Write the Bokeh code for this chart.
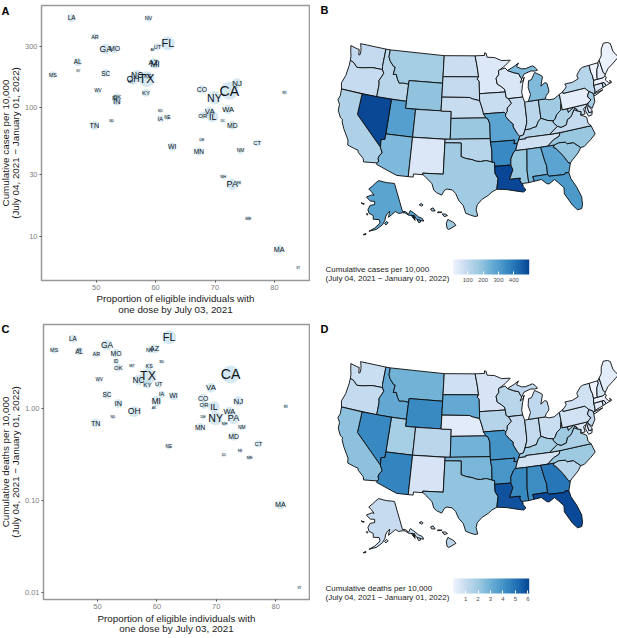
import math
import numpy as np
from bokeh.plotting import figure
from bokeh.models import (ColumnDataSource, Range1d, FixedTicker, Label, ColorBar,
                          LinearColorMapper, AllLabels)
from bokeh.core.properties import value, field
from bokeh.embed import file_html
from bokeh.resources import INLINE

# ------------------------------------------------------------------ data
states = ["AK","AL","AR","AZ","CA","CO","CT","DC","DE","FL","GA","HI","IA","ID","IL","IN","KS",
          "KY","LA","MA","MD","ME","MI","MN","MO","MS","MT","NC","ND","NE","NH","NJ","NM","NV",
          "NY","OH","OK","OR","PA","RI","SC","SD","TN","TX","UT","VA","VT","WA","WI","WV","WY"]
vacc = [59.5,46.9,49.8,59.6,72.4,67.8,77.1,71.3,67.8,62.06,51.6,74.0,60.8,53.1,69.6,53.5,58.7,
        58.4,45.85,80.8,72.9,75.6,59.9,67.3,53.1,42.7,55.8,56.9,52.6,62.0,71.4,73.7,74.3,58.8,
        69.9,56.2,53.5,67.95,72.9,81.7,51.6,60.8,49.7,58.5,60.3,69.1,84.0,72.2,62.8,50.3,47.0]
cases = [283,226,356,222,135,138,53,79,56,315,285,26,82,117,85,112,176,
         130,496,7.9,73,13.8,219,45.6,285,180,159,178,78,84,29,154.5,46,493,
         119,166,121,87,25.3,131,185,94,72.5,166,297,93,5.7,96.5,49.5,134.7,191]
deaths = [1.02,4.23,3.93,4.49,2.36,1.31,.417,.313,.81,6.0,4.92,.352,1.44,3.27,1.05,1.14,2.91,
          1.84,5.77,.0905,.50,.296,1.21,.632,4.03,4.34,2.93,2.05,.805,.39,.687,1.21,.632,4.38,
          .785,.935,2.79,1.10,.785,1.07,1.42,3.24,.70,2.25,1.84,1.69,.0115,.935,1.38,2.07,4.3]
pop = [.73,4.9,3.0,7.3,39.5,5.8,3.6,.7,1.0,21.5,10.7,1.4,3.2,1.8,12.7,6.7,2.9,
       4.5,4.6,6.9,6.0,1.3,10.0,5.6,6.1,3.0,1.1,10.4,.76,1.9,1.4,8.9,2.1,3.1,
       19.5,11.7,4.0,4.2,12.8,1.1,5.1,.88,6.9,29.0,3.2,8.6,.62,7.6,5.9,1.8,.58]
map_cases = dict(zip(states, cases)); map_cases["HI"] = 170
map_deaths = dict(zip(states, deaths)); map_deaths["HI"] = 1.3

x_ticks = [50, 60, 70, 80]
case_ticks = [10, 30, 100, 300]
death_ticks = [0.01, 0.10, 1.00]
blues = ["#EFF3FF","#C6DBEF","#9ECAE1","#6BAED6","#4292C6","#2171B5","#084594"]

# State outlines as (lon, lat)
GEO = {
"WA":[(-124.73,48.38),(-123.2,48.15),(-122.75,48.15),(-122.55,47.35),(-122.3,47.4),(-122.3,48.0),(-122.5,48.5),(-122.76,49),(-117.03,49),(-117.04,46.42),(-116.92,45.99),(-118.98,46),(-119.6,45.92),(-121.2,45.65),(-122.3,45.55),(-122.8,45.85),(-123.3,46.15),(-124,46.27),(-124.1,46.9),(-124.4,47.5)],
"OR":[(-124,46.27),(-123.3,46.15),(-122.8,45.85),(-122.3,45.55),(-121.2,45.65),(-119.6,45.92),(-118.98,46),(-116.92,45.99),(-116.5,45.5),(-116.85,44.9),(-117.2,44.4),(-117.03,43.8),(-117.03,42),(-124.21,42),(-124.55,42.84),(-124.1,44),(-123.95,45.5)],
"ID":[(-117.03,49),(-116.05,49),(-116.05,48),(-115.7,47.45),(-114.7,46.7),(-114.35,46.65),(-114.5,45.55),(-113.9,45.65),(-113.45,44.95),(-113,44.45),(-112.3,44.55),(-111.05,44.48),(-111.05,42),(-117.03,42),(-117.03,43.8),(-117.2,44.4),(-116.85,44.9),(-116.5,45.5),(-116.92,45.99),(-117.04,46.42)],
"MT":[(-116.05,49),(-104.05,49),(-104.05,45),(-111.05,45),(-111.05,44.48),(-112.3,44.55),(-113,44.45),(-113.45,44.95),(-113.9,45.65),(-114.5,45.55),(-114.35,46.65),(-114.7,46.7),(-115.7,47.45),(-116.05,48)],
"WY":[(-111.05,45),(-104.05,45),(-104.05,41),(-111.05,41)],
"UT":[(-114.05,42),(-111.05,42),(-111.05,41),(-109.05,41),(-109.05,37),(-114.05,37)],
"NV":[(-120,42),(-114.05,42),(-114.05,36.2),(-114.75,36.1),(-114.63,35),(-120,39)],
"CA":[(-124.21,42),(-120,42),(-120,39),(-114.63,35),(-114.15,34.25),(-114.5,33.9),(-114.72,33.4),(-114.52,33),(-114.72,32.72),(-117.12,32.53),(-117.3,33),(-118.4,33.75),(-118.5,34.03),(-119.2,34.15),(-120.5,34.45),(-120.65,35.15),(-121.9,36.6),(-122.5,37.5),(-122.5,37.8),(-123,38),(-123.75,38.95),(-123.8,39.8),(-124.35,40.4),(-124.1,41)],
"AZ":[(-114.05,37),(-109.05,37),(-109.05,31.33),(-111.07,31.33),(-114.82,32.5),(-114.72,32.72),(-114.52,33),(-114.72,33.4),(-114.5,33.9),(-114.15,34.25),(-114.63,35),(-114.75,36.1),(-114.05,36.2)],
"CO":[(-109.05,41),(-102.05,41),(-102.05,37),(-109.05,37)],
"NM":[(-109.05,37),(-103,37),(-103.04,32),(-106.62,32),(-106.53,31.78),(-108.2,31.78),(-108.2,31.33),(-109.05,31.33)],
"ND":[(-104.05,49),(-97.23,49),(-96.85,47.5),(-96.56,45.94),(-104.05,45.94)],
"SD":[(-104.05,45.94),(-96.56,45.94),(-96.85,45.6),(-96.45,45.3),(-96.45,43.5),(-96.45,42.5),(-97.9,42.8),(-98.5,43),(-104.05,43)],
"NE":[(-104.05,43),(-98.5,43),(-97.9,42.8),(-96.45,42.5),(-96.1,41.7),(-95.85,41),(-95.3,40),(-102.05,40),(-102.05,41),(-104.05,41)],
"KS":[(-102.05,40),(-95.3,40),(-94.9,39.8),(-94.6,39.1),(-94.62,37),(-102.05,37)],
"OK":[(-103,37),(-94.62,37),(-94.62,36.5),(-94.43,35.4),(-94.48,33.64),(-95.5,33.9),(-96.5,33.8),(-97.2,33.85),(-98,34.1),(-99.2,34.3),(-100,34.56),(-100,36.5),(-103,36.5)],
"TX":[(-106.62,32),(-103.04,32),(-103,36.5),(-100,36.5),(-100,34.56),(-99.2,34.3),(-98,34.1),(-97.2,33.85),(-96.5,33.8),(-95.5,33.9),(-94.48,33.64),(-94.04,33.55),(-94.04,33),(-94.04,31.99),(-93.55,31.2),(-93.75,30.3),(-93.85,29.7),(-94.7,29.35),(-95.3,28.9),(-96.4,28.35),(-97.2,27.6),(-97.4,26.9),(-97.15,25.96),(-97.6,25.9),(-98.3,26.1),(-99.1,26.4),(-99.5,27.5),(-100.3,28.3),(-100.8,29.25),(-101.4,29.77),(-102.3,29.88),(-102.7,29.7),(-103.15,28.98),(-104,29.3),(-104.5,29.65),(-104.9,30.6),(-106,31.4),(-106.53,31.78)],
"MN":[(-97.23,49),(-95.15,49),(-95.15,49.38),(-94.8,49.3),(-94.6,48.72),(-93,48.6),(-91.5,48.07),(-89.6,48),(-90.8,47.3),(-92.05,46.75),(-92.29,46.66),(-92.29,46.07),(-92.9,45.6),(-92.75,44.75),(-91.9,44.3),(-91.25,43.85),(-91.22,43.5),(-96.45,43.5),(-96.45,45.3),(-96.85,45.6),(-96.56,45.94),(-96.85,47.5)],
"IA":[(-96.45,43.5),(-91.22,43.5),(-91.1,42.7),(-90.65,42.5),(-90.15,41.8),(-91.05,41.2),(-91.1,40.7),(-91.42,40.38),(-91.73,40.61),(-95.77,40.58),(-95.85,41),(-96.1,41.7),(-96.45,42.5)],
"MO":[(-95.77,40.58),(-91.73,40.61),(-91.42,40.38),(-91.5,40),(-90.75,39.25),(-90.15,38.8),(-90.2,38.4),(-89.5,37.3),(-89.15,36.98),(-89.4,36.5),(-89.7,36),(-90.37,36),(-90.15,36.5),(-94.62,36.5),(-94.62,37),(-94.6,39.1),(-94.9,39.8),(-95.3,40)],
"AR":[(-94.62,36.5),(-90.15,36.5),(-90.37,36),(-89.7,36),(-90.1,35.1),(-90.6,34.7),(-91.1,33.9),(-91.2,33),(-94.04,33),(-94.04,33.55),(-94.48,33.64),(-94.43,35.4)],
"LA":[(-94.04,33),(-91.2,33),(-90.9,32.3),(-91.6,31),(-89.73,31),(-89.85,30.65),(-89.6,30.2),(-89.4,30.05),(-89.4,29.75),(-89,29.2),(-89.4,28.95),(-90.2,29.1),(-91.3,29.35),(-92.3,29.55),(-93.85,29.7),(-93.75,30.3),(-93.55,31.2),(-94.04,31.99)],
"WI":[(-92.29,46.66),(-92.05,46.75),(-90.85,46.95),(-90.4,46.55),(-89.1,46.13),(-88.1,45.9),(-87.8,45.35),(-87.6,45.1),(-88,44.55),(-87.35,44.85),(-87.05,45.3),(-87.55,44.3),(-87.9,43.2),(-87.8,42.49),(-90.65,42.5),(-91.1,42.7),(-91.22,43.5),(-91.25,43.85),(-91.9,44.3),(-92.75,44.75),(-92.9,45.6),(-92.29,46.07)],
"IL":[(-90.65,42.5),(-87.8,42.49),(-87.53,41.7),(-87.53,39.35),(-87.6,38.7),(-88.05,37.8),(-88.45,37.1),(-89.15,36.98),(-89.5,37.3),(-90.2,38.4),(-90.15,38.8),(-90.75,39.25),(-91.5,40),(-91.42,40.38),(-91.1,40.7),(-91.05,41.2),(-90.15,41.8)],
"IN":[(-87.53,41.7),(-87.2,41.75),(-86.8,41.76),(-84.8,41.76),(-84.82,39.1),(-85.4,38.7),(-85.9,38),(-86.5,37.95),(-87.1,37.8),(-88.05,37.8),(-87.6,38.7),(-87.53,39.35)],
"OH":[(-84.8,41.76),(-83.45,41.73),(-82.7,41.5),(-81.7,41.5),(-80.52,41.98),(-80.52,40.64),(-80.85,39.7),(-81.7,39.25),(-82.2,38.6),(-82.6,38.42),(-83.7,38.65),(-84.82,39.1)],
"KY":[(-89.15,36.98),(-88.45,37.1),(-88.05,37.8),(-87.1,37.8),(-86.5,37.95),(-85.9,38),(-85.4,38.7),(-84.82,39.1),(-83.7,38.65),(-82.6,38.42),(-82.6,38.15),(-81.97,37.54),(-83.68,36.6),(-88.07,36.68),(-88.07,36.5),(-89.4,36.5)],
"TN":[(-90.1,35.1),(-89.7,36),(-89.4,36.5),(-88.07,36.5),(-88.07,36.68),(-83.68,36.6),(-81.68,36.59),(-82,36.1),(-83.1,35.75),(-84.3,35),(-85.6,35),(-88.2,35),(-90.1,35)],
"MS":[(-90.1,35),(-88.2,35),(-88.1,34.9),(-88.47,31.9),(-88.4,30.2),(-89.6,30.2),(-89.85,30.65),(-89.73,31),(-91.6,31),(-90.9,32.3),(-91.2,33),(-91.1,33.9),(-90.6,34.7),(-90.1,35.1)],
"AL":[(-88.2,35),(-85.6,35),(-85.18,32.87),(-85,32.3),(-85.05,31),(-87.6,31),(-87.45,30.3),(-88,30.25),(-88.4,30.2),(-88.47,31.9),(-88.1,34.9)],
"GA":[(-85.6,35),(-84.3,35),(-83.1,35),(-83.35,34.7),(-82.9,34.45),(-81.9,33.3),(-81.15,32.1),(-80.85,32.03),(-81.4,30.7),(-82.05,30.75),(-82.2,30.55),(-84.86,30.7),(-85.05,31),(-85,32.3),(-85.18,32.87)],
"FL":[(-87.6,31),(-85.05,31),(-84.86,30.7),(-82.2,30.55),(-82.05,30.75),(-81.4,30.7),(-81.25,29.8),(-80.55,28.4),(-80.05,26.9),(-80.15,25.75),(-80.4,25.2),(-81.1,25.15),(-81.75,25.95),(-82.15,26.7),(-82.75,27.8),(-82.65,28.7),(-83.4,29.5),(-84,30.1),(-85,29.6),(-85.4,29.7),(-86.2,30.4),(-87.45,30.3)],
"SC":[(-83.35,34.7),(-83.1,35),(-82.3,35.2),(-81.05,35.1),(-80.8,34.82),(-79.67,34.8),(-78.55,33.86),(-79.2,33.2),(-80.45,32.35),(-80.85,32.03),(-81.15,32.1),(-81.9,33.3),(-82.9,34.45)],
"NC":[(-84.3,35),(-83.1,35.75),(-82,36.1),(-81.68,36.59),(-75.87,36.55),(-75.5,35.25),(-76.5,34.65),(-77.9,33.9),(-78.55,33.86),(-79.67,34.8),(-80.8,34.82),(-81.05,35.1),(-82.3,35.2),(-83.1,35)],
"VA":[(-83.68,36.6),(-81.97,37.54),(-81.3,37.3),(-80.3,37.5),(-79.95,38.2),(-79.3,38.42),(-78.87,38.77),(-78.35,39.4),(-77.83,39.13),(-77.05,38.85),(-77.3,38.4),(-76.3,37.9),(-76.3,37),(-75.87,36.55),(-81.68,36.59)],
"WV":[(-82.6,38.15),(-82.6,38.42),(-82.2,38.6),(-81.7,39.25),(-80.85,39.7),(-80.52,40.64),(-80.52,39.72),(-79.48,39.72),(-79.48,39.2),(-78.35,39.7),(-77.72,39.32),(-77.83,39.13),(-78.35,39.4),(-78.87,38.77),(-79.3,38.42),(-79.95,38.2),(-80.3,37.5),(-81.3,37.3),(-81.97,37.54)],
"MD":[(-79.48,39.72),(-75.79,39.72),(-75.7,38.46),(-75.05,38.45),(-75.25,38.03),(-75.9,37.95),(-76.3,38.9),(-76,39.4),(-76.5,39.2),(-76.45,38.4),(-77.3,38.4),(-77.05,38.85),(-77.83,39.13),(-77.72,39.32),(-78.35,39.7),(-79.48,39.2)],
"DE":[(-75.79,39.72),(-75.42,39.8),(-75.55,39.45),(-75.05,38.8),(-75.05,38.45),(-75.7,38.46)],
"PA":[(-80.52,41.98),(-79.76,42.27),(-79.76,42),(-75.35,42),(-75.05,41.7),(-74.7,41.36),(-75.1,40.95),(-75.2,40.65),(-74.72,40.15),(-75.42,39.8),(-75.79,39.72),(-80.52,39.72)],
"NY":[(-79.76,42.27),(-79.05,42.7),(-78.9,42.9),(-79.05,43.27),(-77.5,43.25),(-76.2,43.55),(-76.3,44.1),(-75.3,44.85),(-74.7,45),(-73.35,45),(-73.4,44),(-73.25,43.5),(-73.27,42.75),(-73.5,42.05),(-73.5,41.3),(-73.65,41),(-73.9,40.85),(-72,41.05),(-73.7,40.58),(-74,40.6),(-74.05,41),(-74.7,41.36),(-75.05,41.7),(-75.35,42),(-79.76,42)],
"NJ":[(-74.7,41.36),(-74.05,41),(-74,40.6),(-74.1,39.75),(-74.9,38.93),(-75.55,39.5),(-75.42,39.8),(-74.72,40.15),(-75.2,40.65),(-75.1,40.95)],
"CT":[(-73.5,42.05),(-71.8,42.02),(-71.8,41.35),(-73.65,41),(-73.5,41.3)],
"RI":[(-71.8,42.02),(-71.38,42.02),(-71.15,41.5),(-71.8,41.35)],
"MA":[(-73.5,42.05),(-73.27,42.75),(-71.3,42.7),(-70.85,42.87),(-70.65,42.65),(-71,42.3),(-70.55,41.8),(-70,41.8),(-70.2,42.08),(-69.95,41.68),(-71.15,41.5),(-71.38,42.02)],
"VT":[(-73.35,45),(-71.5,45),(-71.55,44.6),(-72.05,44.1),(-72.45,43),(-72.46,42.73),(-73.27,42.75),(-73.25,43.5),(-73.4,44)],
"NH":[(-71.5,45),(-71.08,45.3),(-70.98,43.4),(-70.7,43.07),(-70.85,42.87),(-71.3,42.7),(-72.46,42.73),(-72.45,43),(-72.05,44.1),(-71.55,44.6)],
"ME":[(-71.08,45.3),(-70.4,45.8),(-70,46.7),(-69.2,47.45),(-68.3,47.35),(-67.8,47.07),(-67.78,45.9),(-67.45,45.3),(-67,44.85),(-68.5,44.25),(-69.8,43.75),(-70.7,43.07),(-70.98,43.4)],
"MI":[(-84.8,41.76),(-83.45,41.73),(-83.1,42.2),(-82.5,42.6),(-82.45,43),(-82.6,43.9),(-83,44.05),(-83.9,43.65),(-83.3,44.9),(-83.4,45.1),(-84.75,45.75),(-85.1,45.4),(-85.6,44.8),(-86.25,44.7),(-86.5,43.7),(-86.2,42.7),(-86.8,41.76)],
}
GEO_EXTRA = [
("MI",[(-90.4,46.55),(-89.1,46.13),(-88.1,45.9),(-87.8,45.35),(-87.6,45.1),(-87,45.75),(-85.5,46.05),(-84.75,45.95),(-84.1,46),(-84.5,46.45),(-85,46.75),(-86.5,46.5),(-87.4,46.55),(-88.4,46.95),(-87.9,47.45),(-88.9,47.05)]),
]
AK_GEO = [
[(-141,69.65),(-144,70.05),(-148,70.4),(-152,70.85),(-156.6,71.35),(-160,70.5),(-163,69.5),(-166.5,68.35),(-164,67.6),(-161.5,66.5),(-163.5,66.55),(-168,65.6),(-164.5,64.5),(-161,64.5),(-161,63.5),(-164.5,63.1),(-166,61.7),(-165,60.5),(-162,59.9),(-162,58.7),(-158,58.7),(-157.5,57.6),(-161,55.9),(-164.5,54.7),(-160,55.5),(-156,57),(-154,58.5),(-153.5,59.5),(-152,60.5),(-150,61.2),(-151.5,59.3),(-149,60),(-146,60.8),(-144,60),(-141,59.9),(-139.5,59.6),(-137.5,58.5),(-135.5,58.2),(-133,56),(-130,55),(-130.2,56),(-132,57),(-134,58.8),(-135.5,59.8),(-137.5,58.9),(-139,60),(-141,60.3)],
[(-154.6,57.4),(-153.2,58),(-152.2,57.6),(-153.8,56.9)],
[(-171.7,63.4),(-169,63.3),(-170,63.1)],
[(-166.8,60.3),(-165.7,60.2),(-166.2,59.8)],
[(-167.8,53.3),(-166.3,53.9),(-166.2,53.5)],
[(-133.5,56.3),(-132,55.9),(-131.9,55.2),(-133.2,55.2)],
[(-135.6,57.5),(-134.7,57.3),(-134.8,56.3)],
[(-136.2,58.2),(-135,58),(-135.3,57.4)],
[(-134.7,58),(-134,57.8),(-134.3,57)],
]
HI_GEO = [
[(-155.9,20.25),(-155.1,19.85),(-154.8,19.5),(-155.65,18.95),(-155.9,19.1),(-156.05,19.75)],
[(-156.7,20.95),(-156.25,20.93),(-156,20.75),(-156.4,20.6)],
[(-157.3,21.2),(-156.75,21.17),(-157.3,21.08)],
[(-158.27,21.55),(-157.95,21.7),(-157.65,21.3),(-158.1,21.3)],
[(-159.8,22.05),(-159.55,22.22),(-159.3,22.05),(-159.45,21.87)],
]

# Landmarks (lon, lat) and where the reference shows them in panel B (panel pixels)
MAIN_ANCHORS = [
    ((-124.73,48.38),(39.3,45)), ((-69.2,47.45),(297.7,39.3)), ((-80.4,25.2),(268.3,212.3)),
    ((-97.15,25.96),(165.7,215)), ((-124.35,40.4),(25.7,96.7)), ((-117.12,32.53),(66.5,160.5)),
    ((-108.2,31.33),(98.3,174.3)), ((-97.23,49),(163.3,57.3)), ((-116.05,49),(78.3,51.7)),
    ((-75.5,35.25),(286,131.7)), ((-111.05,45),(96.7,83.3)), ((-104.05,45),(130.7,84)),
    ((-111.05,41),(94.3,107.3)), ((-104.05,41),(129.3,109.3)),
]
AK_ANCHORS = [((-141,69.65),(84,183)), ((-141,60.3),(92,211)), ((-170.5,63.3),(52,203))]
HI_ANCHORS = [((-155.5,19.6),(140,224)), ((-159.5,22.05),(111,204.3)), ((-155.5,20.25),(140.5,219))]

FONT = "Liberation Sans"
TXT = "#1a1a1a"
TICK = "#4d4d4d"


def pos(l, t):
    return {"position": "absolute", "left": "%dpx" % l, "top": "%dpx" % t}


def albers(lon, lat, p1, p2, p0, l0):
    r = math.radians
    n = (math.sin(r(p1)) + math.sin(r(p2))) / 2
    c = math.cos(r(p1)) ** 2 + 2 * n * math.sin(r(p1))
    rho = lambda ph: math.sqrt(c - 2 * n * math.sin(r(ph))) / n
    th = n * r(lon - l0)
    return rho(lat) * math.sin(th), rho(p0) - rho(lat) * math.cos(th)


def placer(proj, anchors):
    """least-squares affine map from projected lon/lat to panel pixels"""
    A = np.array([[*proj(*g), 1.0] for g, _ in anchors])
    T = np.array([t for _, t in anchors], dtype=float)
    M = np.linalg.lstsq(A, T, rcond=None)[0]
    def f(lon, lat):
        X = np.array([*proj(lon, lat), 1.0]) @ M
        return float(X[0]), float(X[1])
    return f


main = placer(lambda a, b: albers(a, b, 29.5, 45.5, 37.5, -97), MAIN_ANCHORS)
ak = placer(lambda a, b: albers(a, b, 55, 65, 50, -154), AK_ANCHORS)
hi = placer(lambda a, b: albers(a, b, 8, 18, 13, -157), HI_ANCHORS)


def map_source(vals):
    xs, ys, vv, nm = [], [], [], []
    def add(poly, f, st):
        pts = [f(*q) for q in poly]
        xs.append([q[0] for q in pts]); ys.append([q[1] for q in pts])
        vv.append(vals[st]); nm.append(st)
    for st, poly in GEO.items():
        add(poly, main, st)
    for st, poly in GEO_EXTRA:
        add(poly, main, st)
    for poly in AK_GEO:
        add(poly, ak, "AK")
    for poly in HI_GEO:
        add(poly, hi, "HI")
    return ColumnDataSource(dict(xs=xs, ys=ys, v=vv, state=nm))


def lerp_palette(cols, n=256):
    rgb = [tuple(int(c[i:i + 2], 16) for i in (1, 3, 5)) for c in cols]
    out = []
    for k in range(n):
        t = k / (n - 1) * (len(rgb) - 1)
        i = min(int(t), len(rgb) - 2)
        f = t - i
        out.append("#%02x%02x%02x" % tuple(round(rgb[i][j] * (1 - f) + rgb[i + 1][j] * f) for j in range(3)))
    return out


PAL = lerp_palette(blues)


def scatter_panel(yvals, ylow, yhigh, yticks, yover, left, top, bottom, xlow, xhigh, page_top):
    H = 318
    p = figure(width=310, height=H, output_backend="svg", toolbar_location=None,
               y_axis_type="log", x_range=Range1d(xlow, xhigh), y_range=Range1d(ylow, yhigh),
               min_border_left=left, min_border_right=1, min_border_top=top, min_border_bottom=H - bottom,
               background_fill_color="white", border_fill_color="white", styles=pos(0, page_top))
    p.grid.visible = False
    p.outline_line_color = "#999999"
    p.outline_line_width = 1.5
    for ax in (p.xaxis[0], p.yaxis[0]):
        ax.axis_line_color = None
        ax.major_tick_line_color = "#555555"
        ax.major_tick_in = 0
        ax.major_tick_out = 2
        ax.minor_tick_line_color = None
        ax.major_label_text_font = FONT
        ax.major_label_text_font_size = "7.5px"
        ax.major_label_text_color = "#7f7f7f"
        ax.major_label_standoff = 2
    p.xaxis[0].ticker = FixedTicker(ticks=x_ticks)
    p.yaxis[0].ticker = FixedTicker(ticks=yticks)
    p.yaxis[0].major_label_overrides = yover

    lo = min(pop); hi_ = max(pop)
    scale = [math.sqrt((q - lo) / (hi_ - lo)) for q in pop]
    src = ColumnDataSource(dict(
        x=vacc, y=yvals, state=states,
        fs=["%.1fpx" % (2.6 + 11.5 * s) for s in scale],
        d=[3 + 15 * s for s in scale]))
    p.scatter("x", "y", source=src, size="d", marker="circle", fill_color="#9ecae1", fill_alpha=0.42, line_color=None)
    p.text("x", "y", text="state", source=src, text_font=value(FONT), text_font_size=field("fs"),
           text_align="center", text_baseline="middle", text_color="#10131a")
    return p


def map_panel(letter, vals, low, high, ticks, title, dy, l, t):
    p = figure(width=307, height=318, output_backend="svg", toolbar_location=None,
               x_range=Range1d(0, 307), y_range=Range1d(318, 0), min_border=0,
               background_fill_color="white", border_fill_color="white", styles=pos(l, t))
    p.axis.visible = False
    p.grid.visible = False
    p.outline_line_color = None
    mapper = LinearColorMapper(palette=PAL, low=low, high=high)
    p.patches("xs", "ys", source=map_source(vals), fill_color={"field": "v", "transform": mapper},
              line_color="#0a0a0a", line_width=0.9, line_join="round")
    p.add_layout(Label(x=10, y=9.5 + dy, text=letter, text_font=FONT,
                       text_font_size="11px", text_font_style="bold", text_color="black",
                       text_align="left", text_baseline="middle"))
    p.add_layout(Label(x=15, y=268.7 + dy, text=title, text_font=FONT,
                       text_font_size="8px", text_color=TXT, text_align="left", text_baseline="middle"))
    p.add_layout(Label(x=15, y=277.5 + dy, text="(July 04, 2021 \u2212 January 01, 2022)", text_font=FONT,
                       text_font_size="8px", text_color=TXT, text_align="left", text_baseline="middle"))
    cb = ColorBar(color_mapper=mapper, ticker=FixedTicker(ticks=ticks), location=(142.7, 318 - 275 - dy - 9),
                  orientation="horizontal", major_label_policy=AllLabels(),
                  width=76, height=15, padding=0, margin=0, bar_line_color=None,
                  major_tick_line_color="white", major_tick_in=3, major_tick_out=0, minor_tick_line_color=None,
                  major_label_text_font=FONT, major_label_text_font_size="6px", major_label_text_color=TICK,
                  label_standoff=3, background_fill_color=None, border_line_color=None)
    p.add_layout(cb, "center")
    return p


a = scatter_panel(cases, 4.53, 620, case_ticks, {10: "10", 30: "30", 100: "100", 300: "300"},
                  41, 5, 280, 40.8, 85.9, 0)
c = scatter_panel(deaths, 0.00845, 8.25, death_ticks, {0.01: "0.01", 0.1: "0.10", 1: "1.00"},
                  43, 6, 281, 40.9, 85.7, 318)
b = map_panel("B", map_cases, 5, 500, [100, 200, 300, 400], "Cumulative cases per 10,000", 0, 310, 0)
d = map_panel("D", map_deaths, 0.01, 6.1, [1, 2, 3, 4, 5, 6], "Cumulative deaths per 10,000", 1, 310, 318)

# Axis titles and the left panel letters lie outside the plot frames: one transparent layer holds them.
overlay = figure(width=310, height=638, output_backend="svg", toolbar_location=None,
                 x_range=Range1d(0, 310), y_range=Range1d(638, 0), min_border=0,
                 background_fill_color=None, border_fill_color=None, styles=pos(0, 0))
overlay.axis.visible = False
overlay.grid.visible = False
overlay.outline_line_color = None


def lab(txt, px, py, angle=0, size="9.8px", style="normal", align="center", color=TXT):
    overlay.add_layout(Label(x=px, y=py, text=txt, angle=angle, text_font=FONT, text_font_size=size,
                             text_font_style=style, text_color=color, text_align=align, text_baseline="middle"))


for off, left, top, bottom, ylabel, letter, ty in [
        (0, 41, 5, 280, "Cumulative cases per 10,000", "A", 298),
        (318, 43, 6, 281, "Cumulative deaths per 10,000", "C", 299.5)]:
    cx = (left + 309) / 2
    cy = off + (top + bottom) / 2
    lab("Proportion of eligible individuals with", cx, off + ty)
    lab("one dose by July 03, 2021", cx, off + ty + 10.5)
    lab(ylabel, 4.5, cy, math.pi / 2)
    lab("(July 04, 2021 \u2212 January 01, 2022)", 15, cy, math.pi / 2)
    lab(letter, 1, off + 10, size="11px", style="bold", align="left", color="black")

open("out.html", "w").write(file_html([a, b, c, d, overlay], INLINE))
